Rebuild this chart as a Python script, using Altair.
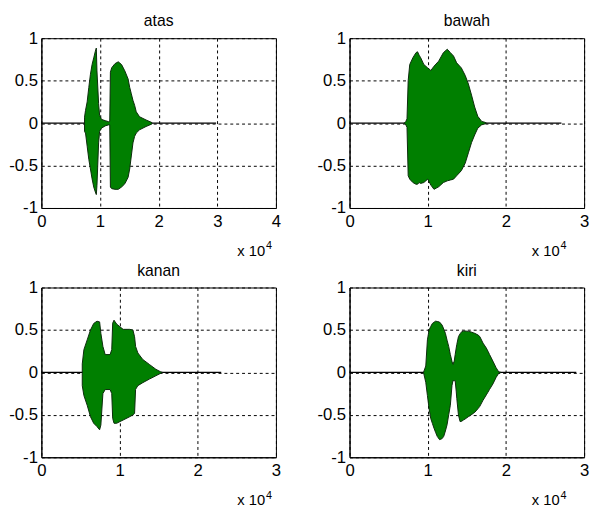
import altair as alt
import pandas as pd

FONT = "Liberation Sans"
FILL = "#007f00"
EDGE = "#0b2a0b"

titles = ["atas", "bawah", "kanan", "kiri"]
x_max = [4, 3, 3, 3]
zero_end = [2.98, 2.71, 2.30, 2.90]

# x in units of 10^4 samples
atas_x = [0.736, 0.753, 0.781, 0.809, 0.837, 0.865, 0.893, 0.920, 0.937, 0.948, 0.976, 0.993,
          1.024, 1.088, 1.144, 1.166, 1.177, 1.200, 1.255, 1.311, 1.367, 1.423, 1.479, 1.506,
          1.534, 1.562, 1.590, 1.618, 1.674, 1.785, 1.886]
atas_hi = [0.07, 0.15, 0.25, 0.42, 0.576, 0.691, 0.769, 0.846, 0.884, 0.615, 0.23, 0.094,
           0.044, 0.029, 0.017, 0.02, 0.60, 0.653, 0.70, 0.722, 0.69, 0.615, 0.52, 0.422,
           0.345, 0.268, 0.21, 0.133, 0.075, 0.037, 0.006]
atas_lo = [-0.10, -0.117, -0.272, -0.426, -0.541, -0.657, -0.753, -0.811, -0.842, -0.734, -0.233, -0.098,
           -0.06, -0.033, -0.021, -0.02, -0.753, -0.772, -0.78, -0.78, -0.753, -0.715, -0.638, -0.541,
           -0.387, -0.233, -0.156, -0.117, -0.079, -0.04, -0.01]

bawah_x = [0.70, 0.72, 0.735, 0.75, 0.77, 0.81, 0.85, 0.87, 0.89, 0.91, 0.95, 1.00, 1.04, 1.08,
           1.14, 1.20, 1.25, 1.29, 1.33, 1.37, 1.43, 1.48, 1.52, 1.56, 1.60, 1.64, 1.69, 1.73, 1.75]
bawah_hi = [0.0, 0.02, 0.05, 0.50, 0.69, 0.77, 0.83, 0.84, 0.80, 0.77, 0.69, 0.65, 0.62, 0.67,
            0.73, 0.83, 0.87, 0.83, 0.79, 0.71, 0.65, 0.56, 0.46, 0.33, 0.19, 0.08, 0.02, 0.01, 0.0]
bawah_lo = [0.0, -0.02, -0.05, -0.62, -0.66, -0.70, -0.72, -0.72, -0.70, -0.71, -0.70, -0.66, -0.73, -0.78,
            -0.75, -0.70, -0.68, -0.67, -0.66, -0.62, -0.56, -0.47, -0.35, -0.23, -0.14, -0.06, -0.02, -0.01, 0.0]

kanan_x = [0.523, 0.544, 0.586, 0.628, 0.669, 0.711, 0.745, 0.761, 0.787, 0.816, 0.879, 0.900, 0.912,
           0.929, 0.962, 1.004, 1.046, 1.130, 1.171, 1.192, 1.205, 1.234, 1.297, 1.381, 1.464, 1.527, 1.548]
kanan_hi = [0.10, 0.268, 0.383, 0.499, 0.576, 0.603, 0.595, 0.46, 0.306, 0.21, 0.21, 0.268, 0.58,
            0.615, 0.57, 0.538, 0.507, 0.507, 0.499, 0.42, 0.306, 0.229, 0.152, 0.094, 0.037, 0.006, 0.0]
kanan_lo = [-0.156, -0.272, -0.387, -0.522, -0.599, -0.638, -0.676, -0.62, -0.25, -0.202, -0.202, -0.25, -0.541,
            -0.599, -0.60, -0.58, -0.561, -0.522, -0.50, -0.483, -0.20, -0.156, -0.121, -0.079, -0.04, -0.01, 0.0]

kiri_x = [0.946, 0.975, 0.996, 1.017, 1.038, 1.059, 1.080, 1.100, 1.121, 1.151, 1.184, 1.205, 1.226, 1.247,
          1.268, 1.289, 1.310, 1.322, 1.339, 1.351, 1.364, 1.372, 1.393, 1.414, 1.435, 1.456, 1.477, 1.519,
          1.540, 1.582, 1.602, 1.644, 1.666, 1.707, 1.749, 1.770, 1.791, 1.833, 1.874, 1.908, 1.937]
kiri_hi = [0.0, 0.075, 0.383, 0.499, 0.54, 0.576, 0.59, 0.603, 0.60, 0.593, 0.557, 0.51, 0.46, 0.38,
           0.306, 0.21, 0.13, 0.094, 0.133, 0.21, 0.287, 0.33, 0.422, 0.455, 0.48, 0.485, 0.488, 0.483,
           0.48, 0.467, 0.46, 0.44, 0.422, 0.345, 0.287, 0.25, 0.21, 0.133, 0.056, 0.006, 0.0]
kiri_lo = [0.0, -0.117, -0.272, -0.426, -0.541, -0.60, -0.657, -0.705, -0.753, -0.792, -0.78, -0.753, -0.69, -0.618,
           -0.50, -0.387, -0.156, -0.098, -0.098, -0.098, -0.22, -0.31, -0.503, -0.58, -0.575, -0.561, -0.55, -0.522,
           -0.51, -0.483, -0.47, -0.426, -0.40, -0.329, -0.265, -0.233, -0.20, -0.137, -0.06, -0.01, 0.0]

series = [(atas_x, atas_hi, atas_lo), (bawah_x, bawah_hi, bawah_lo),
          (kanan_x, kanan_hi, kanan_lo), (kiri_x, kiri_hi, kiri_lo)]

y_ticks = [-1, -0.5, 0, 0.5, 1]
W, H = 239, 173
exp_right = [228, 214, 228, 214]  # right end of the "x 10" label inside each panel


def panel(name, xs, hi, lo, xmax, xend, ex):
    df = pd.DataFrame({"x": xs, "hi": hi, "lo": lo})
    zero = pd.DataFrame({"x0": [0.0], "x1": [xend], "y": [0.0]})
    xscale = alt.Scale(domain=[0, xmax], nice=False, zero=False)
    yscale = alt.Scale(domain=[-1, 1], nice=False)
    xaxis = alt.Axis(values=list(range(xmax + 1)), title=None, labelFlush=False,
                     labelOverlap=False, grid=True)
    yaxis = alt.Axis(values=y_ticks, title=None, labelFlush=False, labelOverlap=False,
                     grid=True, labelExpr="toString(datum.value)")
    rule = alt.Chart(zero).mark_rule(color="black", strokeWidth=1.2).encode(
        x=alt.X("x0:Q", scale=xscale, axis=xaxis, title=None),
        x2="x1",
        y=alt.Y("y:Q", scale=yscale, axis=yaxis, title=None),
    )
    area = alt.Chart(df).mark_area(
        fill=FILL, stroke=EDGE, strokeWidth=1, opacity=1, fillOpacity=1, interpolate="linear"
    ).encode(
        x=alt.X("x:Q", scale=xscale, axis=xaxis, title=None),
        y=alt.Y("hi:Q", scale=yscale, axis=yaxis, title=None),
        y2="lo:Q",
    )
    lab = alt.Chart(pd.DataFrame({"t": ["x 10"]})).mark_text(
        align="right", baseline="alphabetic", fontSize=15, font=FONT, color="black"
    ).encode(text="t:N", x=alt.value(ex), y=alt.value(H + 49))
    sup = alt.Chart(pd.DataFrame({"t": ["4"]})).mark_text(
        align="left", baseline="alphabetic", fontSize=11, font=FONT, color="black"
    ).encode(text="t:N", x=alt.value(ex + 1), y=alt.value(H + 42))
    return alt.layer(rule, area, lab, sup).properties(
        width=W, height=H,
        title=alt.Title(name, fontSize=16, fontWeight="normal", font=FONT, color="black", offset=0),
    )


panels = [panel(t, *s, xm, ze, ex)
          for t, s, xm, ze, ex in zip(titles, series, x_max, zero_end, exp_right)]

chart = alt.concat(
    *panels, columns=2, spacing={"row": 81, "column": 75}, bounds="flush"
).properties(
    padding={"left": 0, "top": 0, "right": 0, "bottom": 0},
    background="white",
).configure_view(
    stroke="black", strokeWidth=1
).configure_axis(
    labelFont=FONT, labelFontSize=17, labelColor="black", ticks=False,
    domainColor="black", domainWidth=1, gridColor="black", gridDash=[3, 3],
    gridOpacity=1, gridWidth=1
).configure_axisY(
    labelPadding=4
).configure_axisX(
    labelPadding=6
)

chart.save("out.html", embed_options={"renderer": "svg", "actions": False})
